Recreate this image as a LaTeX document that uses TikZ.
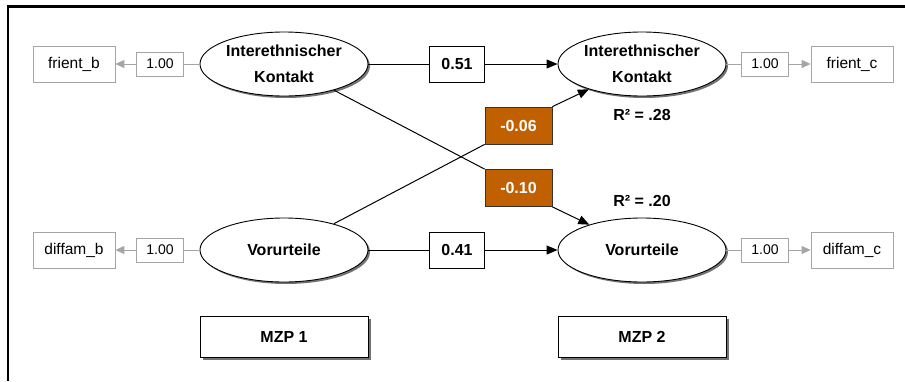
\documentclass[tikz,border=0pt]{standalone}
\usepackage{fontspec}
\setmainfont{Liberation Sans}
\usetikzlibrary{arrows.meta,shadows,shapes.geometric}
\definecolor{burnt}{RGB}{192,96,0}
\definecolor{lgray}{RGB}{165,165,165}
\begin{document}
\begin{tikzpicture}[x=1pt,y=-1pt,
  lat/.style={ellipse, draw, line width=0.9pt, minimum width=168pt, minimum height=64pt, inner sep=0pt,
    fill=white, drop shadow={shadow xshift=2pt, shadow yshift=-2pt, fill=black!55, opacity=1},
    font=\fontsize{16}{26}\selectfont\bfseries, align=center},
  obs/.style={draw=lgray, line width=0.8pt, minimum width=82pt, minimum height=36pt, inner sep=0pt,
    font=\fontsize{15.5}{18}\selectfont},
  ld/.style={draw=lgray, line width=0.8pt, fill=white, minimum width=47pt, minimum height=24pt, inner sep=0pt,
    font=\fontsize{14}{16}\selectfont},
  coef/.style={draw, line width=0.9pt, fill=white, minimum width=55pt, minimum height=36pt, inner sep=0pt,
    font=\fontsize{16}{18}\selectfont\bfseries},
  neg/.style={draw=black!80, line width=0.8pt, fill=burnt, text=white, minimum width=67pt, minimum height=37pt, inner sep=0pt,
    font=\fontsize{16}{18}\selectfont\bfseries},
  mzp/.style={draw, line width=0.9pt, fill=white, minimum width=168pt, minimum height=41pt, inner sep=0pt,
    drop shadow={shadow xshift=2.5pt, shadow yshift=-2.5pt, fill=black!55, opacity=1},
    font=\fontsize{16}{18}\selectfont\bfseries},
  rsq/.style={font=\fontsize{16}{18}\selectfont\bfseries, inner sep=0pt},
  ln/.style={line width=1pt},
  arr/.style={line width=1pt, -{Triangle[length=11pt,width=9pt]}},
  gln/.style={line width=1pt, draw=lgray},
  garr/.style={line width=1pt, draw=lgray, -{Triangle[length=9pt,width=8pt]}}
]
\useasboundingbox (0,0) rectangle (905,381);
% frame
\draw[line width=2.2pt] (8,381) coordinate (fbl) -- (8,6.5) coordinate (ftl) -- (905,6.5) coordinate (ftr);

% latent variables
\node[lat] (ik1) at (284,64) {Interethnischer\\Kontakt};
\node[lat] (ik2) at (642,64) {Interethnischer\\Kontakt};
\node[lat] (v1) at (284,250) {Vorurteile};
\node[lat] (v2) at (642,250) {Vorurteile};

% observed
\node[obs] (fb) at (74,64) {frient\_b};
\node[obs] (db) at (74,250) {diffam\_b};
\node[obs] (fc) at (852,64) {frient\_c};
\node[obs] (dc) at (852,250) {diffam\_c};

% loadings
\node[ld] (l1) at (160,64) {1.00};
\node[ld] (l2) at (160,250) {1.00};
\node[ld] (l3) at (765,64) {1.00};
\node[ld] (l4) at (765,250) {1.00};

% coefficients
\node[coef] (c51) at (457,64) {0.51};
\node[coef] (c41) at (457,250) {0.41};
\node[neg] (c06) at (518.5,125.5) {-0.06};
\node[neg] (c10) at (518.5,188) {-0.10};

% R squared
\node[rsq] (r1) at (642,115) {R² = .28};
\node[rsq] (r2) at (642,201) {R² = .20};

% time points
\node[mzp] (m1) at (284,336.5) {MZP 1};
\node[mzp] (m2) at (642,337) {MZP 2};

% structural paths
\draw[ln] (ik1) -- (c51);
\draw[arr] (c51) -- (ik2);
\draw[ln] (v1) -- (c41);
\draw[arr] (c41) -- (v2);
\draw[ln] (ik1) -- (c10.north west);
\draw[arr] (c10.south east) -- (v2);
\draw[ln] (v1) -- (c06.south west);
\draw[arr] (c06.north east) -- (ik2);

% measurement paths
\draw[gln] (ik1) -- (l1);
\draw[garr] (l1) -- (fb);
\draw[gln] (v1) -- (l2);
\draw[garr] (l2) -- (db);
\draw[gln] (ik2) -- (l3);
\draw[garr] (l3) -- (fc);
\draw[gln] (v2) -- (l4);
\draw[garr] (l4) -- (dc);
\end{tikzpicture}
\end{document}
